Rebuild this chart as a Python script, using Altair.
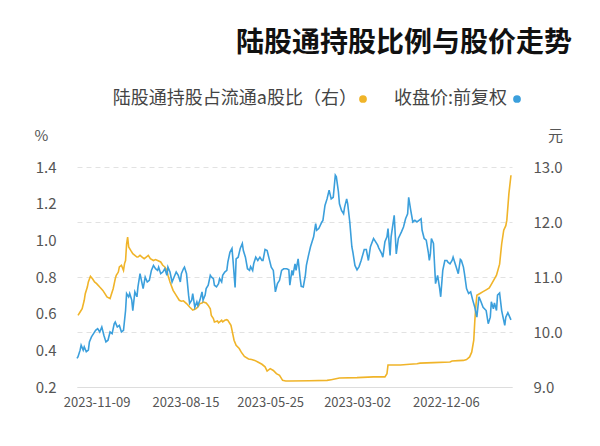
import altair as alt
import pandas as pd

# ---------------- data ----------------
START = "2022-10-03"

price_days = [1, 4, 6, 7, 10, 12, 14, 15, 17, 18, 20, 21, 23, 25, 28, 30, 32, 34, 36, 38,
              40, 42, 44, 46, 47, 49, 50, 52, 54, 55, 57, 58, 60, 62, 63, 65, 67, 69, 70, 72,
              74, 75, 76, 78, 79, 80, 81, 83, 85, 87, 88, 90, 92, 94, 96, 98, 100, 101, 103, 105,
              107, 110, 112, 114, 117, 118, 120, 121, 123, 125, 126, 129, 130, 133, 134, 137, 139, 141, 143, 146,
              148, 150, 152, 154, 155, 157, 159, 160, 162, 163, 165, 167, 168, 170, 171, 173, 175, 177, 179, 181,
              183, 184, 187, 189, 190, 192, 195, 197, 199, 200, 202, 204, 205, 207, 209, 210, 212, 213, 215, 216,
              218, 221, 223, 225, 227, 229, 231, 233, 235, 237, 239, 241, 242, 244, 246, 248, 250, 251, 253, 254,
              256, 258, 260, 261, 263, 265, 267, 268, 270, 271, 273, 275, 276, 278, 280, 281, 283, 284, 286, 288,
              289, 291, 292, 294, 296, 297, 299, 300, 302, 304, 305, 307, 309, 310, 312, 313, 315, 317, 318, 320,
              321, 323, 325, 327, 329, 331, 333, 334, 336, 338, 340, 342, 343, 345, 347, 349, 351, 353, 355, 357,
              359, 360, 362, 363, 365, 367, 368, 370, 371, 373, 374, 376, 378, 380, 382, 384, 385, 387, 389, 391,
              393, 395, 397, 399, 401, 403, 405, 407, 409, 410, 412, 414, 415, 417, 418, 420, 421]

price_vals = [10.22, 10.35, 10.27, 10.12, 10.39, 10.71, 10.67, 10.39, 10.53, 10.42, 10.55, 10.27, 10.15, 10.39, 10.45, 10.55, 10.64, 10.27, 10.45, 10.58,
              10.73, 10.70, 10.79, 11.06, 11.18, 11.30, 11.32, 11.06, 11.18, 11.24, 11.36, 11.30, 11.24, 11.27, 11.30, 11.30, 11.12, 10.64, 10.79, 11.03,
              10.88, 11.24, 11.61, 11.70, 11.42, 11.30, 11.45, 11.67, 11.70, 11.85, 12.06, 12.03, 12.00, 12.03, 12.00, 12.21, 12.45, 12.15, 12.06, 11.91,
              11.82, 11.70, 11.42, 12.12, 11.73, 11.39, 11.88, 11.73, 11.64, 11.36, 11.42, 11.53, 11.58, 11.67, 11.70, 11.55, 11.30, 11.50, 11.50, 11.30,
              11.19, 11.13, 11.21, 11.45, 11.55, 12.00, 12.33, 12.42, 12.27, 12.15, 12.21, 12.33, 12.55, 12.82, 12.85, 12.45, 12.42, 12.58, 12.42, 12.30,
              12.03, 12.00, 11.88, 11.85, 11.97, 11.73, 11.55, 11.39, 11.21, 11.03, 10.82, 10.83, 10.97, 11.33, 11.12, 11.24, 11.03, 11.12, 10.85, 11.13,
              11.15, 11.15, 11.12, 10.94, 10.88, 10.73, 11.12, 11.18, 11.33, 11.48, 11.50, 11.30, 11.30, 11.36, 11.30, 11.36, 11.24, 11.12, 11.19, 11.12,
              11.15, 11.36, 11.48, 11.61, 11.52, 11.36, 11.33, 10.81, 11.30, 11.52, 11.45, 11.27, 11.12, 11.09, 11.03, 10.91, 10.97, 10.88, 10.82, 10.85,
              10.97, 11.00, 11.03, 10.85, 10.79, 10.67, 10.58, 10.73, 10.58, 10.48, 10.55, 10.45, 10.70, 10.58, 10.52, 10.67, 11.06, 11.18, 11.15, 11.06,
              10.91, 11.03, 11.09, 11.00, 10.91, 11.09, 11.18, 11.03, 11.15, 11.09, 11.06, 11.18, 11.12, 11.15, 11.21, 11.12, 10.94, 10.91, 11.00, 10.79,
              10.97, 11.06, 10.82, 10.64, 10.73, 10.39, 10.58, 10.70, 10.64, 10.70, 10.39, 10.03, 10.00, 10.12, 10.09, 10.18, 10.15, 9.97, 10.00, 9.85,
              9.82, 9.94, 10.09, 10.00, 10.06, 10.03, 9.97, 9.91, 9.82, 9.67, 9.64, 9.73, 9.67, 9.76, 9.67, 9.55, 9.52]

ratio_days = [1, 3, 5, 6, 8, 10, 12, 15, 17, 20, 22, 25, 28, 31, 34, 35, 36, 37, 39, 41,
              44, 47, 52, 58, 60, 76, 89, 92, 99, 108, 120, 121, 123, 134, 150, 167, 175, 179, 196, 215,
              219, 222, 225, 228, 231, 234, 237, 239, 242, 246, 249, 252, 255, 259, 262, 264, 267, 269, 271, 272,
              275, 276, 278, 280, 281, 284, 285, 288, 289, 291, 292, 294, 296, 299, 300, 302, 304, 306, 309, 312,
              315, 318, 320, 322, 325, 328, 331, 333, 334, 336, 338, 340, 343, 345, 347, 350, 352, 354, 356, 358,
              360, 362, 363, 365, 367, 369, 371, 372, 373, 374, 375, 376, 378, 380, 381, 383, 384, 386, 388, 389,
              392, 394, 396, 399, 402, 404, 406, 408, 410, 411, 413, 414, 416, 418, 420]

ratio_vals = [1.355, 1.255, 1.11, 1.08, 1.055, 0.98, 0.87, 0.81, 0.79, 0.76, 0.74, 0.73, 0.72, 0.71, 0.70, 0.64, 0.56, 0.455, 0.39, 0.364,
              0.35, 0.345, 0.344, 0.342, 0.336, 0.333, 0.33, 0.327, 0.324, 0.32, 0.32, 0.273, 0.255, 0.255, 0.251, 0.249, 0.24, 0.236, 0.234, 0.233,
              0.233, 0.236, 0.264, 0.273, 0.29, 0.30, 0.287, 0.31, 0.324, 0.336, 0.345, 0.35, 0.353, 0.367, 0.39, 0.41, 0.427, 0.455, 0.51, 0.536,
              0.564, 0.567, 0.564, 0.555, 0.564, 0.55, 0.56, 0.555, 0.573, 0.59, 0.627, 0.645, 0.658, 0.664, 0.658, 0.655, 0.636, 0.627, 0.62, 0.636,
              0.655, 0.67, 0.668, 0.673, 0.70, 0.727, 0.773, 0.81, 0.836, 0.855, 0.864, 0.882, 0.89, 0.895, 0.89, 0.90, 0.918, 0.909, 0.90, 0.909,
              0.918, 0.909, 0.909, 0.918, 0.927, 0.945, 0.964, 1.018, 0.98, 0.89, 0.873, 0.836, 0.864, 0.855, 0.827, 0.809, 0.79, 0.736, 0.70, 0.682,
              0.691, 0.709, 0.727, 0.745, 0.764, 0.773, 0.79, 0.804, 0.773, 0.745, 0.709, 0.673, 0.627, 0.609, 0.591]

x_tick_dates = ["2022-12-06", "2023-03-02", "2023-05-25", "2023-08-15", "2023-11-09"]
x_domain = ["2022-10-03", "2023-11-28"]
price_ticks = [9.0, 10.0, 11.0, 12.0, 13.0]
ratio_ticks = [0.2, 0.4, 0.6, 0.8, 1.0, 1.2, 1.4]

title_text = "陆股通持股比例与股价走势"
price_name = "收盘价:前复权"
ratio_name = "陆股通持股占流通a股比（右）"

assert len(price_days) == len(price_vals)
assert len(ratio_days) == len(ratio_vals)

start = pd.Timestamp(START)
price_df = pd.DataFrame({"date": start + pd.to_timedelta(price_days, unit="D"), "price": price_vals})
ratio_df = pd.DataFrame({"date": start + pd.to_timedelta(ratio_days, unit="D"), "ratio": ratio_vals})


def dt(s):
    y, m, d = (int(v) for v in s.split("-"))
    return alt.DateTime(year=y, month=m, date=d)


FONT = "Noto Sans CJK SC"
BLUE = "#3b9fdc"
ORANGE = "#f0b429"

x_enc = alt.X(
    "date:T",
    scale=alt.Scale(domain=[dt(s) for s in x_domain], reverse=True),
    axis=alt.Axis(
        values=[dt(s) for s in x_tick_dates], format="%Y-%m-%d", title=None,
        labelFontSize=13, labelColor="#555555", labelFont=FONT, labelPadding=9,
        ticks=False, grid=False, domainColor="#dddddd", labelOverlap=False,
    ),
)

ratio_line = alt.Chart(ratio_df).mark_line(color=ORANGE, strokeWidth=1.6).encode(
    x=x_enc,
    y=alt.Y(
        "ratio:Q",
        scale=alt.Scale(domain=[0.2, 1.4], nice=False, zero=False),
        axis=alt.Axis(
            orient="left", values=ratio_ticks, format=".1f", grid=False, domain=False, ticks=False,
            labelFontSize=15, labelColor="#555555", labelFont=FONT, labelPadding=21,
            title="%", titleAngle=0, titleX=-36, titleY=-32, titleFontSize=15,
            titleFontWeight="normal", titleColor="#555555", titleFont=FONT,
            titleAlign="center", titleBaseline="middle",
        ),
    ),
)

price_line = alt.Chart(price_df).mark_line(color=BLUE, strokeWidth=1.6).encode(
    x=x_enc,
    y=alt.Y(
        "price:Q",
        scale=alt.Scale(domain=[9, 13], nice=False, zero=False),
        axis=alt.Axis(
            orient="right", values=price_ticks, format=".1f", grid=True,
            gridDash=[5, 4], gridColor="#e2e2e2", domain=False, ticks=False,
            labelFontSize=15, labelColor="#555555", labelFont=FONT, labelPadding=21,
            title="元", titleAngle=0, titleX=43, titleY=-32, titleFontSize=15,
            titleFontWeight="normal", titleColor="#555555", titleFont=FONT,
            titleAlign="center", titleBaseline="middle",
        ),
    ),
)

one = pd.DataFrame({"k": [0]})

title_mark = alt.Chart(one).mark_text(
    text=title_text, font=FONT, fontSize=28, fontWeight="bold", color="#111111",
    align="right", baseline="middle",
).encode(x=alt.value(495), y=alt.value(-123))

leg_blue_dot = alt.Chart(one).mark_circle(color=BLUE, size=60, opacity=1).encode(
    x=alt.value(440), y=alt.value(-68))
leg_blue_text = alt.Chart(one).mark_text(
    text=price_name, font=FONT, fontSize=18, color="#444444", align="right", baseline="middle",
).encode(x=alt.value(430), y=alt.value(-68))
leg_orange_dot = alt.Chart(one).mark_circle(color=ORANGE, size=60, opacity=1).encode(
    x=alt.value(286), y=alt.value(-68))
leg_orange_text = alt.Chart(one).mark_text(
    text=ratio_name, font=FONT, fontSize=18, color="#444444", align="right", baseline="middle",
).encode(x=alt.value(280), y=alt.value(-68))

chart = alt.layer(
    ratio_line, price_line, title_mark,
    leg_blue_dot, leg_blue_text, leg_orange_dot, leg_orange_text,
).resolve_scale(y="independent").properties(
    width=435, height=220,
    background="white",
    autosize=alt.AutoSizeParams(type="none"),
    padding={"left": 77, "top": 167, "right": 88, "bottom": 59},
).configure_view(stroke=None)

chart.save("out.html", embed_options={"renderer": "svg", "actions": False})
